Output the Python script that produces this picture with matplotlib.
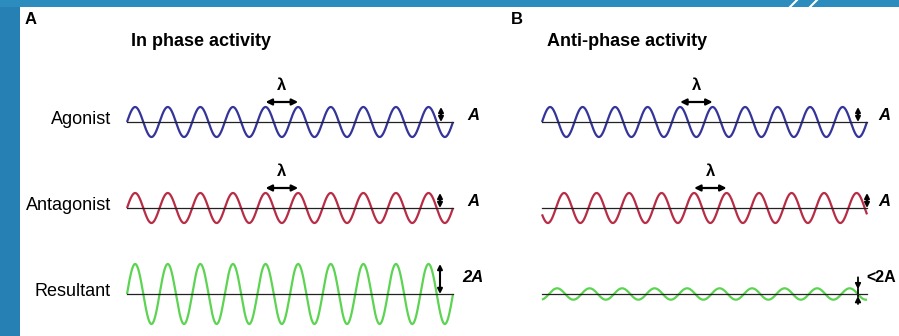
import matplotlib
matplotlib.use("Agg")
import matplotlib.pyplot as plt
import numpy as np

plt.rcParams['font.family'] = ['Liberation Sans', 'DejaVu Sans']

# Data
rows = ["Agonist", "Antagonist", "Resultant"]
colors = ["#34349a", "#b82c46", "#5cd452"]
n_cycles = 10
# amplitude (in units of A) and phase shift (in cycles) of each wave
amp_in = [1.0, 1.0, 2.0]
phase_in = [0.0, 0.0, 0.0]
amp_anti = [1.0, 1.0, 0.38]
phase_anti = [0.0, 0.43, 0.215]
amp_labels_in = ["A", "A", "2A"]
amp_labels_anti = ["A", "A", "<2A"]
titles = ["In phase activity", "Anti-phase activity"]
panels = ["A", "B"]

# Layout (pixels)
W, H = 899, 336
row_y = [122, 208, 294]
px_per_A = 15
panel_x0 = [127, 542]
panel_x1 = [453, 867]
marker_x = [[441, 440, 440], [858, 867, 858]]
label_x = [[467, 467, 462], [878, 878, 866]]

fig = plt.figure(figsize=(W / 100, H / 100), dpi=100)
ax = fig.add_axes([0, 0, 1, 1])
ax.set_xlim(0, W)
ax.set_ylim(H, 0)
ax.axis("off")

# slide frame
ax.add_patch(plt.Rectangle((0, 0), 20, H, color="#2680b4", lw=0))
ax.add_patch(plt.Rectangle((0, 0), W, 7, color="#2b8cbd", lw=0))
for x in [790, 810]:
    ax.plot([x, x + 7], [7, 0], color="white", lw=1.5)


def wave(p, amps, phases, labels):
    x0, x1 = panel_x0[p], panel_x1[p]
    t = np.linspace(0, n_cycles, 1500)
    x = x0 + (x1 - x0) * t / n_cycles
    period = (x1 - x0) / n_cycles
    for i, name in enumerate(rows):
        yc = row_y[i]
        y = yc - px_per_A * amps[i] * np.sin(2 * np.pi * (t - phases[i]))
        ax.plot(x, y, color=colors[i], lw=1.6, solid_capstyle="butt", zorder=2)
        ax.plot([x0, x1], [yc, yc], color="#222222", lw=0.9, zorder=3)

        # amplitude marker
        xa = marker_x[p][i]
        top = yc - px_per_A * amps[i]
        if labels[i].startswith("<"):
            ax.annotate("", xy=(xa, top + 1), xytext=(xa, top - 11),
                        arrowprops=dict(arrowstyle="-|>", color="black", lw=1.3,
                                        mutation_scale=8, shrinkA=0, shrinkB=0))
            ax.annotate("", xy=(xa, yc + 2), xytext=(xa, yc + 10),
                        arrowprops=dict(arrowstyle="-|>", color="black", lw=1.3,
                                        mutation_scale=8, shrinkA=0, shrinkB=0))
            ax.plot([xa, xa], [top + 1, yc + 2], color="black", lw=1.3)
            ax.text(label_x[p][i], top - 11, labels[i], fontsize=11.5,
                    fontweight="bold", ha="left", va="center")
        else:
            ax.annotate("", xy=(xa, top), xytext=(xa, yc),
                        arrowprops=dict(arrowstyle="<|-|>", color="black", lw=1.5,
                                        mutation_scale=7, shrinkA=0, shrinkB=0))
            ly = yc - 7 if labels[i] == "A" else yc - 17
            ax.text(label_x[p][i], ly, labels[i], fontsize=12, fontweight="bold",
                    fontstyle="italic", ha="left", va="center")

        # wavelength marker between 5th and 6th peaks
        if i < 2:
            pk = x0 + period * (4.25 + phases[i])
            ax.annotate("", xy=(pk, yc - 20), xytext=(pk + period, yc - 20),
                        arrowprops=dict(arrowstyle="<|-|>", color="black", lw=1.6,
                                        mutation_scale=9, shrinkA=0, shrinkB=0))
            ax.text(pk + period / 2, yc - 37, "λ", fontsize=12, fontweight="bold",
                    ha="center", va="center")


wave(0, amp_in, phase_in, amp_labels_in)
wave(1, amp_anti, phase_anti, amp_labels_anti)

for i, name in enumerate(rows):
    ax.text(111, row_y[i] - 2, name, fontsize=13, ha="right", va="center")

ax.text(25, 19, panels[0], fontsize=12, fontweight="bold", va="center")
ax.text(511, 19, panels[1], fontsize=12, fontweight="bold", va="center")
ax.text(131, 42, titles[0], fontsize=13, fontweight="bold", va="center")
ax.text(547, 42, titles[1], fontsize=13, fontweight="bold", va="center")

fig.savefig("out.png", dpi=100, facecolor="white")
